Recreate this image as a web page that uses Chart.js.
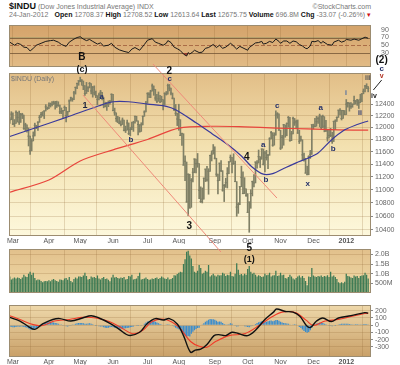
<!DOCTYPE html>
<html><head><meta charset="utf-8">
<script src="https://cdn.jsdelivr.net/npm/chart.js@4.4.0/dist/chart.umd.min.js"></script>
<style>
html,body{margin:0;padding:0;background:#fff;width:400px;height:365px;overflow:hidden;font-family:"Liberation Sans",Arial,sans-serif;}
canvas{position:absolute;left:0;}
.t{position:absolute;white-space:nowrap;font-size:7px;color:#777;line-height:1;}
.t b{color:#111;}
</style></head><body>
<div class="t" style="left:9px;top:2px;"><span style="font-size:9px;font-weight:bold;color:#111">$INDU</span> (Dow Jones Industrial Average) INDX</div>
<div class="t" style="right:29px;top:3px;">©StockCharts.com</div>
<div class="t" style="left:9px;top:11px;">24-Jan-2012</div>
<div class="t" style="right:29px;top:11px;"><b>Open</b> 12708.37 <b>High</b> 12708.52 <b>Low</b> 12613.64 <b>Last</b> 12675.75 <b>Volume</b> 696.8M <b>Chg</b> -33.07 (-0.26%) <span style="color:#d01010">▾</span></div>
<canvas id="rsi" width="400" height="54" style="top:19px"></canvas>
<canvas id="vol" width="400" height="56" style="top:243px"></canvas>
<canvas id="macd" width="400" height="66" style="top:299px"></canvas>
<canvas id="price" width="400" height="215" style="top:50px"></canvas>
<div class="t" style="left:11px;top:75px;font-size:7px;color:#777">$INDU (Daily)</div>
<script>
const FONT = "'Liberation Sans', Arial, sans-serif";
// ---- x axis (trading-day index, 0 = 25-Feb-2011) ----
const monthIdx = [2,25,45,66,88,108,131,152,173,194,215];
const monthLabels = ['Mar','Apr','May','Jun','Jul','Aug','Sep','Oct','Nov','Dec','2012'];
// ---- daily price bars ----
const highs = [12169,12268,
12249,12134,12283,12259,12279,12240,12241,12212,12072,12044,11993,11855,11812,11926,12073,12037,12099,12207,12258,12270,12283,12390,12350,
12420,12418,12441,12450,12447,12451,12440,12381,12333,12285,12369,12342,12275,12474,12521,12506,12622,12700,12770,12811,
12876,12834,12807,12724,12782,12706,12781,12761,12710,12720,12628,12548,12590,12640,12606,12512,12432,12430,12455,12465,12579,
12570,12330,12249,12189,12175,12110,12161,12125,12023,12126,12076,12000,12091,12105,12190,12190,12110,12050,12080,12195,12284,12447,
12599,12601,12642,12753,12719,12657,12568,12612,12552,12538,12479,12597,12620,12751,12745,12681,12593,12502,12393,12243,
12397,12133,11904,11896,11533,11433,11244,11239,11172,11332,11483,11482,11571,11410,11043,11026,11178,11320,11366,11327,11540,11613,11717,
11680,11494,11240,11415,11458,11296,11080,11177,11344,11439,11546,11509,11566,11450,11124,10799,11046,11367,11276,11186,11011,
10939,10812,10998,11132,11232,11434,11456,11627,11519,11644,11644,11605,11622,11555,11830,11935,11913,11912,12284,12252,12231,
11955,11869,12053,12044,12076,12187,12170,11935,12177,12153,12125,12127,11953,11855,11796,11578,11493,11367,11533,11621,12046,
12056,12153,12188,12180,12227,12196,12210,12184,12121,11955,11954,11985,11920,12107,12131,12180,12294,12321,12293,12288,12288,
12479,12430,12418,12425,12405,12538,12463,12483,12471,12571,12584,12665,12724,12758,12708];
const lows = [12068,12130,
12047,12015,12067,12090,12050,12085,12150,11966,11940,11923,11693,11555,11614,11775,11858,11980,11950,12086,12170,12196,12150,12280,12306,
12320,12348,12368,12392,12310,12340,12360,12232,12233,12150,12285,12093,12200,12266,12453,12448,12478,12574,12669,12730,
12793,12730,12652,12550,12584,12617,12684,12579,12520,12560,12511,12387,12471,12560,12470,12335,12350,12290,12355,12400,12442,
12282,12206,12100,12085,12061,12025,12049,11940,11915,11953,11881,11862,11962,11934,12072,12108,11875,11920,11933,12043,12188,12262,
12414,12510,12511,12626,12553,12463,12423,12447,12425,12437,12300,12385,12557,12573,12630,12560,12488,12284,12201,12031,
11953,11866,11700,11383,11139,10809,10604,10720,10730,11117,11262,11261,11349,10863,10803,10796,10855,11124,11131,10929,11285,11450,11560,
11482,11205,10933,11139,11281,10975,10817,11034,11025,11247,11434,11259,11395,11124,10597,10640,10771,11044,10936,10938,10897,
10655,10362,10716,10903,11043,11103,11335,11416,11345,11478,11386,11276,11464,11327,11541,11809,11688,11706,11870,12156,11954,
11634,11658,11705,11837,11861,12003,11770,11780,11894,12034,11987,11902,11733,11771,11466,11446,11257,11231,11231,11491,11557,
11975,12013,12019,12067,12009,11976,11997,11927,11929,11772,11824,11846,11735,11766,11965,12101,12169,12213,12126,12151,12218,
12218,12346,12277,12325,12344,12393,12398,12377,12323,12422,12442,12579,12611,12669,12614];
const closes = [12130,12226,
12058,12066,12258,12170,12090,12214,12214,11984,12044,11993,11855,11613,11775,11858,12037,12019,12087,12171,12221,12198,12280,12350,12320,
12377,12400,12393,12426,12409,12380,12381,12264,12270,12285,12342,12202,12266,12453,12506,12480,12595,12691,12763,12811,
12808,12807,12724,12584,12638,12684,12761,12630,12696,12596,12548,12479,12560,12606,12512,12381,12357,12395,12403,12442,12570,
12290,12249,12151,12090,12070,12049,12125,11952,11953,12076,11897,11962,12004,12081,12191,12110,12050,11934,12043,12188,12262,12414,
12582,12570,12626,12719,12657,12505,12447,12492,12437,12479,12385,12587,12572,12724,12681,12593,12502,12303,12240,12143,
12132,11867,11896,11384,11445,10810,11240,10720,11144,11270,11482,11406,11411,10991,10818,10855,11177,11320,11150,11285,11540,11560,11614,
11494,11240,11139,11415,11296,10992,11062,11106,11247,11434,11509,11401,11408,11124,10734,10771,11044,11190,10938,11011,10913,
10655,10809,10940,11123,11103,11433,11416,11519,11478,11644,11397,11577,11505,11541,11809,11913,11706,11869,12209,12231,11955,
11658,11836,12044,11983,12069,12170,11780,11894,12153,12079,12096,11906,11771,11796,11548,11493,11257,11231,11523,11556,12046,
12020,12019,12098,12150,12196,11997,12184,12021,11955,11824,11869,11866,11766,12103,12107,12169,12294,12291,12151,12288,12218,
12398,12418,12416,12360,12393,12462,12449,12471,12422,12482,12579,12623,12720,12709,12676];
// moving averages: [dayIndex, value]
const ma50 = [[0,11850],[17,12000],[36,12170],[57,12370],[66,12440],[76,12440],[88,12400],[100,12360],[106,12300],[119,12080],[129,11900],[140,11700],[148,11530],[155,11350],[162,11240],[168,11250],[175,11330],[183,11420],[190,11490],[197,11580],[205,11780],[214,11960],[222,12050],[229,12110]];
const ma200 = [[0,10960],[25,11150],[45,11450],[66,11630],[88,11800],[108,11990],[130,12020],[150,12010],[170,11990],[190,11975],[210,11960],[229,11955]];
// hand-drawn channel lines and arrow: [dayIndex, price]
const trendA = [[46.8,12557],[134.9,10080]];
const trendB = [[91.5,13114],[170.7,10871]];
const arrowLine = [[237.6,12824],[232.3,12646]];
// wave labels: [text, dayIndex, price, colour, size, weight]
const waveLabels = [
 ['B',46.1,13243,'#111',10,'bold'],['(c)',46.1,13022,'#111',9,'bold'],
 ['1',48.1,12383,'#1c2440',9,'bold'],['a',58.7,12522,'#23306a',8,'bold'],['b',77.4,11791,'#23306a',8,'bold'],
 ['2',101.9,12974,'#111',10,'bold'],['c',102.2,12841,'#23306a',8,'bold'],
 ['3',114.7,10454,'#111',10,'bold'],['4',151.4,11515,'#111',10,'bold'],
 ['a',162,11720,'#23306a',8,'bold'],['b',163.7,11149,'#23306a',8,'bold'],['c',170.9,12365,'#23306a',8,'bold'],
 ['5',153,10133,'#111',10,'bold'],['(1)',153,9981,'#111',9,'bold'],
 ['x',190.3,11086,'#23306a',8,'bold'],['a',198.7,12343,'#23306a',8,'bold'],['b',206.7,11644,'#23306a',8,'bold'],
 ['i',214.8,12597,'#4a6aa0',7,'bold'],['ii',223.8,12239,'#23306a',7,'bold'],['iii',228.8,12868,'#555',7,'bold'],
 ['iv',232.7,12532,'#222',7,'bold'],['v',237.6,12896,'#b03020',7,'bold'],['c',237.6,13036,'#23306a',8,'bold'],
 ['(2)',237.6,13188,'#111',10,'bold']
];
const priceTicks = [10400,10600,10800,11000,11200,11400,11600,11800,12000,12200,12400];
// RSI(14): [dayIndex, value]
const rsiPts = [[0,58],[3,50],[5,55],[7,52],[9,45],[11,44],[13,35],[15,42],[17,50],[20,55],[23,60],[26,62],[28,63],[31,58],[33,52],[36,47],[38,58],[41,66],[43,70],[45,72],[47,66],[49,62],[51,65],[53,60],[56,53],[58,56],[60,48],[63,50],[65,55],[67,45],[70,38],[73,34],[76,31],[78,40],[80,44],[83,37],[86,52],[88,63],[91,67],[93,58],[95,55],[98,50],[100,55],[101,62],[103,57],[105,45],[107,41],[109,36],[111,27],[113,22],[114,31],[115,27],[117,33],[118,37],[121,31],[123,32],[125,42],[127,44],[130,52],[132,44],[134,50],[136,42],[138,45],[141,55],[142,52],[145,40],[147,47],[149,43],[152,37],[153,44],[155,50],[157,56],[159,57],[161,60],[162,53],[164,55],[166,60],[168,57],[170,66],[172,60],[173,55],[175,61],[177,61],[179,55],[181,61],[183,59],[185,52],[187,48],[189,42],[190,41],[192,48],[193,60],[195,59],[197,62],[199,55],[200,60],[203,52],[206,50],[207,58],[210,63],[212,58],[214,61],[215,65],[218,63],[220,66],[223,63],[225,67],[227,71],[229,68]];
const rsiTicks = [30,50,70,90];
// volume (billions)
const volumes = [0.85,0.7,
0.75,0.8,0.75,0.8,0.78,0.72,0.8,0.95,0.85,0.82,1.0,1.1,0.95,1.05,0.78,0.65,0.7,0.68,0.62,0.55,0.6,0.62,0.6,
0.65,0.6,0.68,0.72,0.65,0.62,0.58,0.7,0.68,0.66,0.75,0.78,0.68,0.82,0.62,0.55,0.72,0.8,0.75,0.85,
0.85,0.82,0.9,1.05,0.88,0.7,0.72,0.85,0.8,0.82,0.78,0.9,0.75,0.7,0.78,0.82,0.72,0.75,0.68,0.6,0.8,
0.95,0.8,0.82,0.78,0.75,0.8,0.78,0.82,0.7,0.72,0.88,0.85,0.95,0.7,0.72,0.75,0.88,1.05,0.7,0.72,0.75,0.8,
0.72,0.68,0.7,0.75,0.72,0.78,0.8,0.72,0.78,0.85,0.8,0.75,0.72,0.8,0.7,0.72,0.78,0.92,0.9,0.98,
1.05,1.1,1.08,1.5,1.75,2.15,2.2,1.95,1.8,1.4,1.1,1.05,1.15,1.45,1.3,1.0,1.05,1.15,1.1,1.45,0.85,0.92,1.0,
0.9,0.85,0.95,0.9,0.92,1.05,1.0,0.88,0.95,0.92,1.1,0.88,0.85,1.0,1.55,1.2,0.95,0.98,0.9,1.0,0.95,
1.25,1.4,1.1,1.0,1.05,0.95,0.85,0.92,0.88,0.82,0.85,1.0,0.92,0.95,1.05,0.85,0.9,0.92,1.15,0.88,0.9,
1.05,0.92,0.95,0.78,0.75,0.82,0.95,0.85,0.75,0.7,0.78,0.85,0.9,0.8,0.88,0.78,0.62,0.4,0.85,0.82,1.3,
0.9,0.85,0.82,0.88,0.85,0.9,0.82,0.88,0.85,0.92,0.82,1.1,0.85,0.9,0.82,0.72,0.55,0.5,0.55,0.5,0.58,
1.0,0.88,0.85,0.8,0.78,0.9,0.85,0.88,0.78,0.88,0.9,0.92,1.05,0.95,0.75];
const volTicks = [0.5,1.0,1.5,2.0];
const volTickLabels = ['500M','1.0B','1.5B','2.0B'];
// MACD (12,26,9)
const macdPts = [[0,106],[6.5,56],[12,-20],[16,-58],[21,16],[27.5,77],[32,90],[39,56],[46.5,98],[52,130],[57,98],[64,25],[70,-58],[76,-140],[83,-98],[88,25],[93,90],[98,70],[102,90],[107,16],[111,-144],[115.5,-373],[118.5,-343],[122,-331],[126,-266],[130.5,-144],[133.5,-131],[138,-144],[142,-98],[146,-115],[152,-144],[157,-70],[163,77],[168.5,179],[170.5,221],[176,188],[181,179],[185.5,118],[189.5,-5],[192,-33],[196,56],[200,98],[205.5,49],[210,98],[218,130],[226.8,172],[229,165]];
const signalPts = [[0,130],[6.5,77],[15,7],[21,-5],[28.5,56],[38,77],[46.5,106],[55,98],[63.5,49],[72,-45],[78.5,-119],[85,-70],[91,49],[99.5,77],[108,-28],[115.5,-225],[121,-291],[126,-303],[131.5,-225],[140,-144],[150.5,-115],[159,-9],[167.5,114],[174,179],[182.5,172],[189.5,65],[194,-5],[201.5,56],[210,77],[218,118],[226.8,160],[229,162]];
const histVals = [-25,-22,-28,-30,-25,-20,
-22,-20,-18,-25,-30,-35,-45,
-60,-65,-60,-50,-38,-25,
-10,5,18,28,35,40,
42,45,40,35,30,25,18,10,
2,-5,-8,-15,-18,-12,-5,2,
10,18,25,28,30,28,25,
20,18,22,25,20,12,5,-2,
-10,-15,-18,-20,-28,-35,-38,-35,
-30,-25,-30,-35,-40,-42,-45,-48,
-45,-45,-42,-38,-35,-30,-25,-18,
-10,-5,-2,-8,-5,5,20,35,
50,58,62,65,58,48,35,25,
15,8,0,5,10,12,10,5,
-5,-20,-35,-45,-55,-70,-85,-120,
-140,-165,-150,-155,-120,-90,-70,-52,
-40,-35,-10,10,25,45,60,75,
85,82,80,75,60,45,50,48,
30,15,10,8,12,25,20,5,
-5,-20,-15,-10,0,-8,-15,-20,
-25,-28,-15,-5,5,15,28,40,
48,52,50,45,48,55,60,62,
55,60,70,72,60,45,35,30,
25,22,20,10,5,8,12,8,
-10,-25,-40,-60,-80,-95,-105,-95,
-70,-35,-10,10,22,30,35,32,
28,20,12,5,-5,-12,-15,-10,
-2,5,10,15,18,20,18,20,
18,15,12,10,10,12,12,10,
8,10,12,15,12,8];
const macdTicks = [-300,-200,-100,0,100,200];

// ---------------- helpers ----------------
const pts = a => a.map(([x,y]) => ({x, y}));
const GRID = 'rgba(140,100,50,0.22)';
function xAxis(show){
  return {type:'linear', min:-0.5, max:230.8, offset:false,
    afterBuildTicks: a => { a.ticks = monthIdx.map(v => ({value:v})); },
    afterFit: a => { a.height = show ? 8 : 0; },
    ticks:{display:show, autoSkip:false, maxRotation:0, padding:1, color:'#555',
      font: c => ({family:FONT, size:7, weight: c.index === 10 ? 'bold' : 'normal'}),
      callback:(v,i) => monthLabels[i]},
    grid:{color:GRID, drawTicks:false}, border:{display:false}};
}
function yTicks(cb){
  return {color:'#666', padding:2, autoSkip:false, font:{family:FONT, size:7}, callback:cb};
}
function yAxis(extra){
  return Object.assign({position:'right',
    afterFit: a => { a.width = 29; },
    ticks:yTicks(v => String(v)),
    grid:{color:GRID, drawTicks:true, tickLength:2, tickColor:'#888'}, border:{display:false}}, extra);
}
const bgPlugin = {id:'bg',
  beforeDraw(chart, args, o){
    const {left,top,right,bottom} = chart.chartArea, ctx = chart.ctx;
    const g = ctx.createLinearGradient(0, top, 0, bottom);
    o.stops.forEach(([p,c]) => g.addColorStop(p,c));
    ctx.save(); ctx.fillStyle = g; ctx.fillRect(left, top, right-left, bottom-top); ctx.restore();
  },
  afterDraw(chart){
    const {left,top,right,bottom} = chart.chartArea, ctx = chart.ctx;
    ctx.save(); ctx.strokeStyle = '#9c8c70'; ctx.lineWidth = 1;
    ctx.strokeRect(Math.round(left)+0.5, Math.round(top)+0.5, Math.round(right-left)-1, Math.round(bottom-top)-1);
    ctx.restore();
  }};
const base = (extra) => Object.assign({animation:false, responsive:false, devicePixelRatio:1,
  events:[], layout:{padding:{left:9,right:0,top:0,bottom:0}}}, extra);

// ---------------- RSI panel ----------------
const rsiLines = {id:'rsiLines', beforeDatasetsDraw(chart){
  const y = chart.scales.y, {left,right} = chart.chartArea, ctx = chart.ctx;
  ctx.save(); ctx.lineWidth = 1;
  [[70,[]],[30,[]],[50,[4,2]]].forEach(([v,d]) => {
    const py = Math.round(y.getPixelForValue(v)) + 0.5;
    ctx.strokeStyle = v === 50 ? 'rgba(150,80,50,0.7)' : 'rgba(110,80,50,0.75)';
    ctx.setLineDash(d); ctx.beginPath(); ctx.moveTo(left, py); ctx.lineTo(right, py); ctx.stroke();
  });
  ctx.restore();
}};
new Chart(document.getElementById('rsi'), {
  type:'line',
  data:{datasets:[
    {data:pts(rsiPts), borderColor:'#1a1a1a', borderWidth:1, pointRadius:0, tension:0,
     fill:{target:{value:70}, above:'rgba(60,130,90,0.85)', below:'rgba(0,0,0,0)'}},
    {data:pts(rsiPts), borderWidth:0, pointRadius:0, tension:0,
     fill:{target:{value:30}, above:'rgba(0,0,0,0)', below:'rgba(150,50,40,0.85)'}}
  ]},
  options: base({
    scales:{x:xAxis(false),
      y:yAxis({min:-6, max:102, afterBuildTicks:a=>{a.ticks = rsiTicks.map(v=>({value:v}));},
        grid:{display:false}})},
    plugins:{legend:{display:false}, tooltip:{enabled:false},
      bg:{stops:[[0,'#d4a36a'],[1,'#e2bb86']]}}
  }),
  plugins:[bgPlugin, rsiLines]
});

// ---------------- Price panel ----------------
const annPlugin = {id:'ann', afterDraw(chart){
  const xs = chart.scales.x, ys = chart.scales.y, ctx = chart.ctx;
  ctx.save(); ctx.textAlign = 'center'; ctx.textBaseline = 'middle';
  waveLabels.forEach(([t,i,v,c,s,w]) => {
    ctx.font = `${w} ${s}px ${FONT}`; ctx.fillStyle = c;
    ctx.fillText(t, xs.getPixelForValue(i), ys.getPixelForValue(v));
  });
  ctx.restore();
}};
new Chart(document.getElementById('price'), {
  type:'bar',
  data:{datasets:[
    {type:'line', data:pts(trendA), borderColor:'#f08a7a', borderWidth:1, pointRadius:0, clip:false},
    {type:'line', data:pts(trendB), borderColor:'#f08a7a', borderWidth:1, pointRadius:0, clip:false},
    {type:'line', data:pts(arrowLine), borderColor:'#222', borderWidth:1, pointRadius:0, clip:false},
    {type:'line', data:pts(ma50), borderColor:'#3a3a9c', borderWidth:1.2, pointRadius:0, tension:0.3},
    {type:'line', data:pts(ma200), borderColor:'#e8453c', borderWidth:1.2, pointRadius:0, tension:0.3},
    {type:'line', data:closes.map((c,i)=>({x:i,y:c})), showLine:false, pointStyle:'line',
     pointRadius:1.1, borderColor:'#7c7c64', borderWidth:1},
    {type:'bar', data:highs.map((h,i)=>({x:i,y:[lows[i],h]})), backgroundColor:'#808066',
     barThickness:1, grouped:false}
  ]},
  options: base({
    layout:{padding:{left:9,right:0,top:23,bottom:21}},
    scales:{x:xAxis(true),
      y:yAxis({type:'logarithmic', min:10308, max:12951,
        afterBuildTicks:a=>{a.ticks = priceTicks.map(v=>({value:v}));},
        ticks:yTicks(v=>String(v))})},
    plugins:{legend:{display:false}, tooltip:{enabled:false},
      bg:{stops:[[0,'#e2be87'],[0.45,'#f3e1b0'],[1,'#fdf8dc']]}}
  }),
  plugins:[bgPlugin, annPlugin]
});

// ---------------- Volume panel ----------------
new Chart(document.getElementById('vol'), {
  type:'bar',
  data:{datasets:[{data:volumes.map((v,i)=>({x:i,y:v})), backgroundColor:'#3e7b55',
    barPercentage:1, categoryPercentage:0.82}]},
  options: base({
    scales:{x:xAxis(false),
      y:yAxis({min:0, max:2.28, afterBuildTicks:a=>{a.ticks = volTicks.map(v=>({value:v}));},
        ticks:yTicks((v,i)=>volTickLabels[i])})},
    plugins:{legend:{display:false}, tooltip:{enabled:false},
      bg:{stops:[[0,'#e2c08b'],[1,'#f0dba9']]}}
  }),
  plugins:[bgPlugin]
});

// ---------------- MACD panel ----------------
new Chart(document.getElementById('macd'), {
  type:'bar',
  data:{datasets:[
    {type:'line', data:pts(macdPts), borderColor:'#111', borderWidth:1.4, pointRadius:0, tension:0.35},
    {type:'line', data:pts(signalPts), borderColor:'#f03a28', borderWidth:1.1, pointRadius:0, tension:0.35},
    {type:'bar', data:histVals.map((v,i)=>({x:i,y:v})), backgroundColor:'#3a8ccc',
     barPercentage:1, categoryPercentage:0.82}
  ]},
  options: base({
    scales:{x:xAxis(true),
      y:yAxis({min:-438, max:274, afterBuildTicks:a=>{a.ticks = macdTicks.map(v=>({value:v}));},
        ticks:yTicks(v=>String(v))})},
    plugins:{legend:{display:false}, tooltip:{enabled:false},
      bg:{stops:[[0,'#eed8aa'],[1,'#c9a068']]}}
  }),
  plugins:[bgPlugin]
});
</script>
</body></html>
